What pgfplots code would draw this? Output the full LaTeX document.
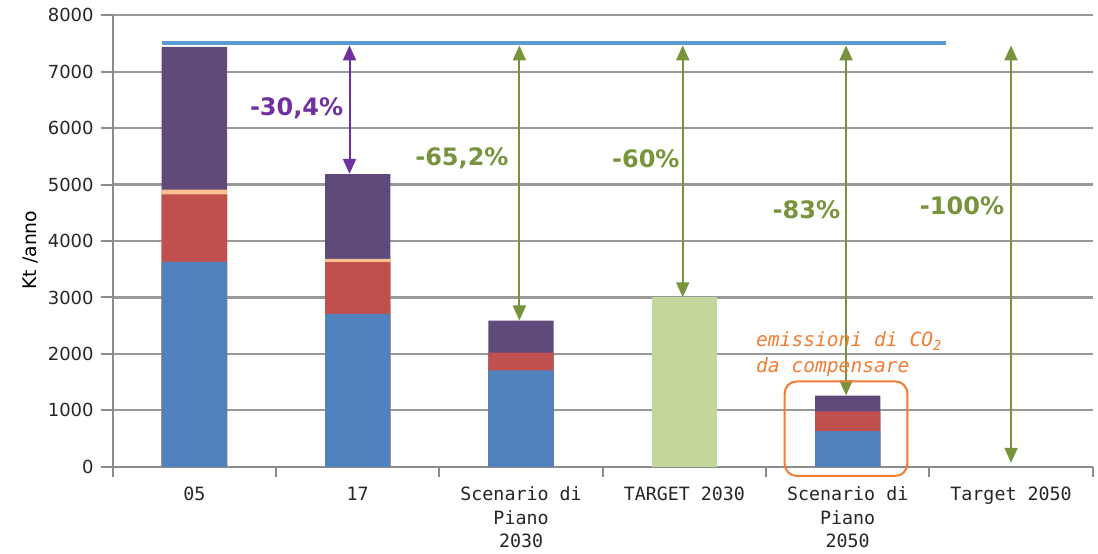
\documentclass[border=0pt]{standalone}
\usepackage{fontspec}
\setmainfont{DejaVu Sans}
\newfontfamily\monofont{DejaVu Sans Mono}
\usepackage{pgfplots}
\pgfplotsset{compat=1.18}
\usetikzlibrary{arrows.meta}
\definecolor{cblue}{HTML}{4F81BD}
\definecolor{cred}{HTML}{C0504D}
\definecolor{cpeach}{HTML}{FAC090}
\definecolor{cpurple}{HTML}{604A7B}
\definecolor{cgreen}{HTML}{C3D69B}
\definecolor{cline}{HTML}{5B9BD5}
\definecolor{carrowg}{HTML}{77933C}
\definecolor{carrowp}{HTML}{7030A0}
\definecolor{corange}{HTML}{F07D32}
\definecolor{axisgray}{HTML}{8C8C8C}
\definecolor{gridgray}{HTML}{999999}
\begin{document}
\begin{tikzpicture}
\useasboundingbox (0,0) rectangle (549pt,276.5pt);
\begin{axis}[
  at={(56.35pt,43.1pt)}, anchor=south west,
  width=490pt, height=225.8pt, scale only axis,
  ybar, bar width=0.4, bar shift=0pt,
  xmin=-0.5, xmax=5.5, ymin=0, ymax=8000,
  ytick={0,1000,...,8000},
  xtick={0,...,5},
  xticklabels={{05},{17},{Scenario di\\Piano\\2030},{TARGET 2030},{Scenario di\\Piano\\2050},{Target 2050}},
  minor xtick={-0.5,0.5,...,5.5},
  axis x line*=bottom, axis y line*=left,
  axis line style={draw=axisgray, line width=1pt},
  ymajorgrids, grid style={draw=gridgray, line width=1.1pt},
  tick align=outside,
  major tick length=6pt, minor tick length=5pt,
  major x tick style={draw=none},
  tick style={draw=axisgray, line width=1pt},
  /pgf/number format/1000 sep={},
  /pgf/number format/assume math mode=true,
  yticklabel style={font=\fontsize{9}{10}\selectfont, text=black!85},
  xticklabel style={font=\monofont\fontsize{9.15}{11.75}\selectfont, align=center, text=black!85, yshift=-0.5pt},
  ylabel={Kt /anno},
  every axis y label/.style={at={(axis description cs:0,0.48)}, xshift=-41pt, rotate=90, anchor=center, font=\fontsize{9.4}{10}\selectfont},
  clip=false,
]
% cumulative stack tops, drawn from the top segment down
\addplot[fill=cpurple, draw=none] coordinates {(0,7440) (1,5187) (2,2589) (4,1261)};
\addplot[fill=cpeach, draw=none] coordinates {(0,4912) (1,3685)};
\addplot[fill=cred, draw=none] coordinates {(0,4824) (1,3625) (2,2024) (4,984)};
\addplot[fill=cblue, draw=none] coordinates {(0,3630) (1,2707) (2,1707) (4,631)};
\addplot[fill=cgreen, draw=none] coordinates {(3,3000)};
% 2005 reference line
\addplot[sharp plot, cline, line width=2pt, mark=none] coordinates {(-0.2,7500) (4.6,7500)};

% arrows
\draw[carrowp, line width=1pt, {Triangle[length=7.5pt,width=6.5pt]}-{Triangle[length=7.5pt,width=6.5pt]}] (axis cs:0.95,7465) -- (axis cs:0.95,5190);
\draw[carrowg, line width=1pt, {Triangle[length=7.5pt,width=6.5pt]}-{Triangle[length=7.5pt,width=6.5pt]}] (axis cs:1.99,7465) -- (axis cs:1.99,2592);
\draw[carrowg, line width=1pt, {Triangle[length=7.5pt,width=6.5pt]}-{Triangle[length=7.5pt,width=6.5pt]}] (axis cs:2.99,7465) -- (axis cs:2.99,3003);
\draw[carrowg, line width=1pt, {Triangle[length=7.5pt,width=6.5pt]}-{Triangle[length=7.5pt,width=6.5pt]}] (axis cs:3.99,7465) -- (axis cs:3.99,1264);
\draw[carrowg, line width=1pt, {Triangle[length=7.5pt,width=6.5pt]}-{Triangle[length=7.5pt,width=6.5pt]}] (axis cs:5.0,7465) -- (axis cs:5.0,70);

% percentage labels
\node[text=carrowp, font=\bfseries\fontsize{12}{13}\selectfont] at (axis cs:0.626,6350) {-30,4\%};
\node[text=carrowg, font=\bfseries\fontsize{12}{13}\selectfont] at (axis cs:1.638,5460) {-65,2\%};
\node[text=carrowg, font=\bfseries\fontsize{12}{13}\selectfont] at (axis cs:2.764,5450) {-60\%};
\node[text=carrowg, font=\bfseries\fontsize{12}{13}\selectfont] at (axis cs:3.747,4560) {-83\%};
\node[text=carrowg, font=\bfseries\fontsize{12}{13}\selectfont] at (axis cs:4.70,4617) {-100\%};

% compensation box and text
\draw[corange, line width=1pt, rounded corners=6pt] (axis cs:3.614,-162) rectangle (axis cs:4.365,1513);
\node[anchor=base west, inner sep=0pt, text=corange, font=\monofont\itshape\fontsize{9.8}{11}\selectfont] at (axis cs:3.437,2127) {emissioni di CO\textsubscript{2}};
\node[anchor=base west, inner sep=0pt, text=corange, font=\monofont\itshape\fontsize{9.8}{11}\selectfont] at (axis cs:3.437,1667) {da compensare};
\end{axis}
\end{tikzpicture}
\end{document}
